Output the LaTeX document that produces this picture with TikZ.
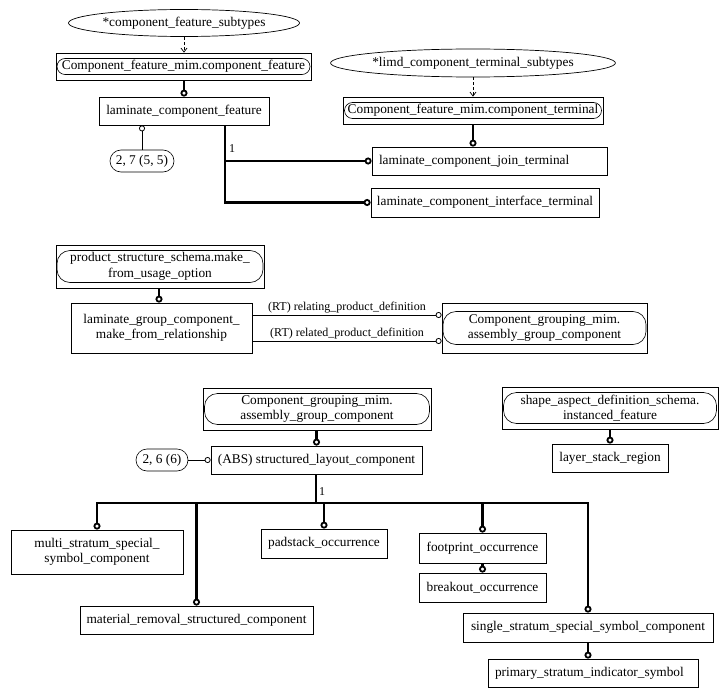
\documentclass[tikz,border=0pt]{standalone}
\usepackage{fontspec}
\setmainfont{Liberation Serif}
\usetikzlibrary{shapes.geometric,arrows.meta}
\tikzset{
  box/.style={draw, line width=0.8pt, rectangle, inner sep=0pt},
  rbox/.style={draw, line width=0.6pt, rectangle, rounded corners=#1, inner sep=0pt, align=center},
  rbox/.default=8pt,
  ell/.style={draw, line width=0.7pt, ellipse, inner sep=0pt},
  thk/.style={line width=2.1pt},
  thkc/.style={thk, -{Circle[open,length=7pt,width=7pt,line width=1.8pt]}},
  thinc/.style={line width=0.8pt, -{Circle[open,length=6pt,width=6pt,line width=0.8pt]}},
  dasharr/.style={line width=0.7pt, dash pattern=on 3pt off 2pt, -{Straight Barb[length=4pt,width=6pt]}},
  lbl/.style={inner sep=0pt, font=\fontsize{12}{14}\selectfont},
  rel/.style={above, inner sep=2pt, font=\fontsize{12}{14}\selectfont}
}
\begin{document}
\begin{tikzpicture}[x=1pt,y=-1pt,font=\fontsize{13.33}{15.5}\selectfont]
\useasboundingbox (0,0) rectangle (728,698);

% ---- section 1
\node[ell, minimum width=231, minimum height=27] (e1) at (184,23) {*component\_feature\_subtypes};
\node[box, minimum width=255, minimum height=27] (cf) at (183.5,66.5) {};
\node[rbox=8pt, minimum width=253, minimum height=16] (cfi) at (cf) {Component\_feature\_mim.component\_feature};
\node[box, minimum width=170, minimum height=28] (lcf) at (184,111) {laminate\_component\_feature};
\node[rbox=11pt, minimum width=64, minimum height=22] (n27) at (142,161) {2, 7 (5, 5)};

\node[ell, minimum width=278, minimum height=28] (e2) at (473,63) {*limd\_component\_terminal\_subtypes};
\node[box, minimum width=260, minimum height=27] (ct) at (473,110.5) {};
\node[rbox=8pt, minimum width=257, minimum height=16] (cti) at (ct) {Component\_feature\_mim.component\_terminal};
\node[box, minimum width=235, minimum height=28, text width=221pt, align=left] (ljt) at (489.5,161) {laminate\_component\_join\_terminal};
\node[box, minimum width=228, minimum height=29] (lit) at (485,202.5) {laminate\_component\_interface\_terminal};

\coordinate (t1) at (225,161);
\node[lbl] (one1) at (232,149) {1};

\draw[dasharr] (e1.south) -- (e1.south |- cf.north);
\draw[thkc] (cf.south -| lcf.north) -- (lcf.north);
\draw[thinc] (n27.north) -- (n27.north |- lcf.south);
\draw[dasharr] (e2.south) -- (e2.south |- ct.north);
\draw[thkc] (ct.south) -- (ct.south |- ljt.north);
\draw[thkc] (lcf.south -| t1) |- (lit.west);
\draw[thkc] (t1) -- (ljt.west);

% ---- section 2
\node[box, minimum width=208, minimum height=43] (mf) at (160,266.5) {};
\node[rbox=13pt, minimum width=206, minimum height=32] (mfi) at (mf) {product\_structure\_schema.make\_\\from\_usage\_option};
\node[box, minimum width=181, minimum height=50, align=center] (lgc) at (161.5,328) {laminate\_group\_component\_\\make\_from\_relationship};
\node[box, minimum width=205, minimum height=50] (agc) at (544.5,328) {};
\node[rbox=13pt, minimum width=203, minimum height=33] (agci) at (agc) {Component\_grouping\_mim.\\assembly\_group\_component};

\draw[thkc] (mf.south -| 159,0) -- (lgc.north -| 159,0);
\draw[thinc] ([yshift=13pt]lgc.east) -- node[rel] {(RT) relating\_product\_definition} ([yshift=13pt]agc.west);
\draw[thinc] ([yshift=-13pt]lgc.east) -- node[rel] {(RT) related\_product\_definition} ([yshift=-13pt]agc.west);

% ---- section 3
\node[box, minimum width=228, minimum height=42] (cg) at (317,409) {};
\node[rbox=13pt, minimum width=225, minimum height=31] (cgi) at (cg) {Component\_grouping\_mim.\\assembly\_group\_component};
\node[box, minimum width=211, minimum height=28] (abs) at (316.5,460) {(ABS) structured\_layout\_component};
\node[rbox=11pt, minimum width=52, minimum height=22] (n26) at (162,460) {2, 6 (6)};

\node[box, minimum width=216, minimum height=42] (sa) at (610,408) {};
\node[rbox=13pt, minimum width=213, minimum height=31] (sai) at (sa) {shape\_aspect\_definition\_schema.\\instanced\_feature};
\node[box, minimum width=116, minimum height=28] (lsr) at (610,458) {layer\_stack\_region};

\node[box, minimum width=172, minimum height=44, align=center] (mss) at (97,552) {multi\_stratum\_special\_\\symbol\_component};
\node[box, minimum width=233, minimum height=28] (mrs) at (196.5,620) {material\_removal\_structured\_component};
\node[box, minimum width=126, minimum height=29] (pad) at (324,543.5) {padstack\_occurrence};
\node[box, minimum width=127, minimum height=30] (fo) at (482.5,548) {footprint\_occurrence};
\node[box, minimum width=127, minimum height=29] (bo) at (482.5,587.5) {breakout\_occurrence};
\node[box, minimum width=250, minimum height=29] (sss) at (588,627.5) {single\_stratum\_special\_symbol\_component};
\node[box, minimum width=210, minimum height=28, text width=196pt, align=left] (pis) at (593,673) {primary\_stratum\_indicator\_symbol};

\coordinate (h) at (316,503);
\node[lbl] (one2) at (322,492) {1};

\draw[thkc] (cg.south -| abs.north) -- (abs.north);
\draw[thinc] (n26.east) -- (abs.west);
\draw[thkc] (sa.south) -- (lsr.north);
\draw[thk] (abs.south -| h) -- (h);
\draw[thkc] (h) -| (mss.north);
\draw[thkc] (h) -| (mrs.north);
\draw[thkc] (h) -| (pad.north);
\draw[thkc] (h) -| (fo.north);
\draw[thkc] (h) -| (sss.north);
\draw[thkc] (fo.south) -- (bo.north);
\draw[thkc] (sss.south) -- (sss.south |- pis.north);
\end{tikzpicture}
\end{document}
